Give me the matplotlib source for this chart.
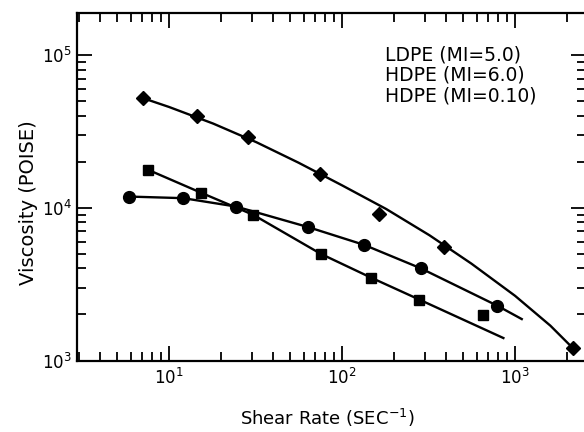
import matplotlib.pyplot as plt
from matplotlib.ticker import LogLocator, NullFormatter

# LDPE (MI=5.0) - diamonds
ldpe_rate = [7.1, 14.6, 28.7, 74.6, 164, 389, 2155]
ldpe_visc = [52000, 40000, 29150, 16630, 9110, 5570, 1207]
ldpe_fit_rate = [7.1, 10, 18, 32, 56, 100, 180, 320, 560, 1000, 1600, 2155]
ldpe_fit_visc = [52000, 45600, 35500, 26800, 19700, 14000, 9800, 6600, 4300, 2650, 1690, 1207]

# HDPE (MI=6.0) - circles
hdpe6_rate = [5.9, 12.1, 24.4, 63.9, 134, 285, 790]
hdpe6_visc = [11820, 11540, 10170, 7455, 5713, 4012, 2282]
hdpe6_fit_rate = [5.9, 12.1, 24.4, 63.9, 134, 285, 790, 1093]
hdpe6_fit_visc = [11820, 11540, 10170, 7455, 5713, 4012, 2282, 1867]

# HDPE (MI=0.10) - squares
hdpe01_rate = [7.59, 15.25, 30.7, 75.3, 147, 279, 651]
hdpe01_visc = [17670, 12550, 8975, 4990, 3487, 2507, 1992]
hdpe01_fit_rate = [7.59, 15.25, 30.7, 75.3, 147, 279, 856]
hdpe01_fit_visc = [17670, 12550, 8975, 4990, 3487, 2507, 1403]

legend_lines = ['LDPE (MI=5.0)', 'HDPE (MI=6.0)', 'HDPE (MI=0.10)']

fig = plt.figure(figsize=(5.84, 4.32), dpi=100)
ax = fig.add_axes([0.1324, 0.1655, 0.871, 0.8037])
ax.set_xscale('log')
ax.set_yscale('log')

ax.plot(ldpe_fit_rate, ldpe_fit_visc, color='black', lw=1.7)
ax.plot(hdpe6_fit_rate, hdpe6_fit_visc, color='black', lw=1.7)
ax.plot(hdpe01_fit_rate, hdpe01_fit_visc, color='black', lw=1.7)
ax.plot(ldpe_rate, ldpe_visc, ls='none', marker='D', ms=7, color='black', clip_on=False)
ax.plot(hdpe6_rate, hdpe6_visc, ls='none', marker='o', ms=8.5, color='black')
ax.plot(hdpe01_rate, hdpe01_visc, ls='none', marker='s', ms=7.8, color='black')

ax.set_xlim(2.95, 2570)
ax.set_ylim(1000, 1.87e5)

for axis in (ax.xaxis, ax.yaxis):
    axis.set_major_locator(LogLocator(base=10, numticks=20))
    axis.set_minor_locator(LogLocator(base=10, subs=range(2, 10), numticks=20))
    axis.set_minor_formatter(NullFormatter())

ax.tick_params(which='both', direction='in', top=True, right=True, width=1.3, colors='black')
ax.tick_params(which='major', length=11, labelsize=12)
ax.tick_params(which='minor', length=6.5)
ax.tick_params(axis='x', pad=5)
ax.tick_params(axis='y', pad=4)
for s in ax.spines.values():
    s.set_linewidth(1.6)

ax.set_xlabel('Shear Rate (SEC$^{-1}$)', fontsize=13)
ax.set_ylabel('Viscosity (POISE)', fontsize=14)
ax.xaxis.set_label_coords(0.491, -0.133)
ax.yaxis.set_label_coords(-0.077, 0.456)

for i, txt in enumerate(legend_lines):
    ax.text(0.605, 0.88 - i * 0.059, txt, transform=ax.transAxes,
            fontsize=13.5, va='center', ha='left')

fig.savefig('out.png', dpi=100)
